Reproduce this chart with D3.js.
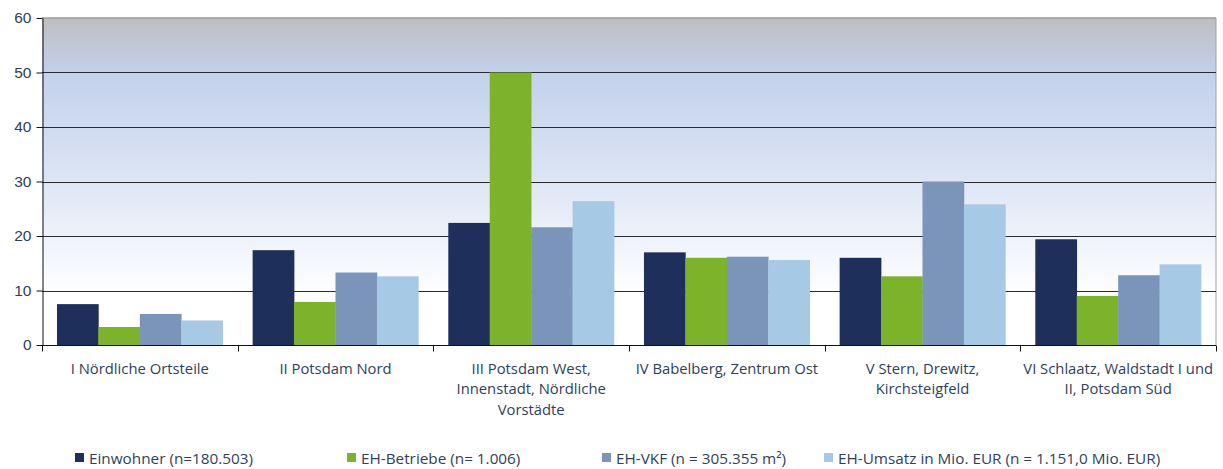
<!DOCTYPE html>
<html>
<head>
<meta charset="utf-8">
<script src="https://cdn.jsdelivr.net/npm/d3@7"></script>
<style>
  body { margin: 0; background: #fff; }
  svg { font-family: "Open Sans", "Noto Sans", sans-serif; }
</style>
</head>
<body>
<div id="chart"></div>
<script>
var categories = [
  ["I Nördliche Ortsteile"],
  ["II Potsdam Nord"],
  ["III Potsdam West,", "Innenstadt, Nördliche", "Vorstädte"],
  ["IV Babelberg, Zentrum Ost"],
  ["V Stern, Drewitz,", "Kirchsteigfeld"],
  ["VI Schlaatz, Waldstadt I und", "II, Potsdam Süd"]
];
var seriesNames = ["Einwohner (n=180.503)", "EH-Betriebe (n= 1.006)", "EH-VKF (n = 305.355 m²)", "EH-Umsatz in Mio. EUR (n = 1.151,0 Mio. EUR)"];
var einwohner = [7.5, 17.4, 22.4, 17.0, 16.0, 19.4];
var betriebe = [3.3, 7.9, 50.0, 16.0, 12.6, 9.0];
var vkf = [5.7, 13.3, 21.6, 16.2, 30.0, 12.8];
var umsatz = [4.5, 12.6, 26.4, 15.6, 25.8, 14.8];
var yTicks = [0, 10, 20, 30, 40, 50, 60];

var series = [einwohner, betriebe, vkf, umsatz];
var colors = ["#1f2f5b", "#7db22b", "#7b94b9", "#a6c9e6"];

var width = 1223, height = 469;
var margin = {left: 42, right: 7, top: 18, bottom: 124};

var svg = d3.select('#chart').append('svg')
  .attr('width', width).attr('height', height);

var defs = svg.append('defs');
var grad = defs.append('linearGradient').attr('id', 'bg')
  .attr('x1', 0).attr('y1', 0).attr('x2', 0).attr('y2', 1);
grad.append('stop').attr('offset', '0%').attr('stop-color', '#bebec1');
grad.append('stop').attr('offset', '17%').attr('stop-color', '#c3d1ec');
grad.append('stop').attr('offset', '45%').attr('stop-color', '#d9e2f3');
grad.append('stop').attr('offset', '85%').attr('stop-color', '#ffffff');
grad.append('stop').attr('offset', '100%').attr('stop-color', '#ffffff');

var x0 = d3.scaleBand()
  .domain(d3.range(categories.length))
  .range([margin.left, width - margin.right])
  .paddingInner(0.153).paddingOuter(0.0765);
var xs = d3.range(categories.length);
var xOuter = d3.scaleBand().domain(xs).range([margin.left, width - margin.right]);
var x1 = d3.scaleBand().domain(d3.range(series.length)).range([0, x0.bandwidth()]);
var y = d3.scaleLinear().domain([0, 60]).range([height - margin.bottom, margin.top]);

var plotW = width - margin.right - margin.left;
svg.append('rect')
  .attr('x', margin.left).attr('y', y(60))
  .attr('width', plotW).attr('height', y(0) - y(60))
  .attr('fill', 'url(#bg)');

// border top / right
svg.append('line').attr('x1', margin.left).attr('x2', width - margin.right)
  .attr('y1', y(60)).attr('y2', y(60)).attr('stroke', '#9a9a9a').attr('stroke-width', 1.5);
svg.append('line').attr('x1', width - margin.right).attr('x2', width - margin.right)
  .attr('y1', y(60)).attr('y2', y(0)).attr('stroke', '#a0a0a0').attr('stroke-width', 1);

// gridlines
svg.append('g').selectAll('line')
  .data(yTicks.filter(function (d) { return d > 0 && d < 60; }))
  .enter().append('line')
  .attr('x1', margin.left).attr('x2', width - margin.right)
  .attr('y1', function (d) { return Math.round(y(d)) + 0.5; })
  .attr('y2', function (d) { return Math.round(y(d)) + 0.5; })
  .attr('stroke', '#2a2a33').attr('stroke-width', 1);

// bars
var groups = svg.append('g').selectAll('g')
  .data(xs).enter().append('g')
  .attr('transform', function (i) { return 'translate(' + x0(i) + ',0)'; });
groups.selectAll('rect')
  .data(function (i) { return series.map(function (s, k) { return {k: k, v: s[i]}; }); })
  .enter().append('rect')
  .attr('x', function (d) { return x1(d.k); })
  .attr('width', x1.bandwidth() + 0.3)
  .attr('y', function (d) { return y(d.v); })
  .attr('height', function (d) { return y(0) - y(d.v); })
  .attr('fill', function (d) { return colors[d.k]; });

// y axis
var yAxis = svg.append('g')
  .attr('transform', 'translate(' + (margin.left + 0.5) + ',0)')
  .call(d3.axisLeft(y).tickValues(yTicks).tickSize(6).tickSizeOuter(0).tickPadding(5));
yAxis.select('.domain').attr('stroke', '#111');
yAxis.selectAll('.tick line').attr('stroke', '#111');
yAxis.selectAll('text').attr('font-size', 15.5).attr('fill', '#2f3f5c');

// x axis
var xAxis = svg.append('g')
  .attr('transform', 'translate(0,' + (Math.round(y(0)) + 0.5) + ')');
xAxis.append('line').attr('x1', margin.left).attr('x2', width - margin.right)
  .attr('stroke', '#111').attr('stroke-width', 1.2);
xAxis.selectAll('.xt')
  .data(d3.range(categories.length + 1)).enter().append('line')
  .attr('class', 'xt')
  .attr('x1', function (i) { return Math.round(i < categories.length ? xOuter(i) : width - margin.right) + 0.5; })
  .attr('x2', function (i) { return Math.round(i < categories.length ? xOuter(i) : width - margin.right) + 0.5; })
  .attr('y1', 0).attr('y2', 6).attr('stroke', '#111');

var labels = xAxis.selectAll('.xl')
  .data(xs).enter().append('text')
  .attr('class', 'xl')
  .attr('text-anchor', 'middle')
  .attr('font-size', 14.8)
  .attr('fill', '#2f3f5c')
  .attr('transform', function (i) { return 'translate(' + (xOuter(i) + xOuter.bandwidth() / 2) + ',28)'; });
labels.selectAll('tspan')
  .data(function (i) { return categories[i]; })
  .enter().append('tspan')
  .attr('x', 0)
  .attr('dy', function (d, j) { return j === 0 ? 0 : 20.5; })
  .text(function (d) { return d; });

// legend
var legendX = [75, 347, 602, 824];
var legend = svg.append('g').selectAll('g')
  .data(seriesNames).enter().append('g')
  .attr('transform', function (d, i) { return 'translate(' + legendX[i] + ',453)'; });
legend.append('rect').attr('width', 9).attr('height', 9)
  .attr('fill', function (d, i) { return colors[i]; });
legend.append('text').attr('x', 14).attr('y', 10.5)
  .attr('font-size', 15.3).attr('fill', '#2f3f5c')
  .text(function (d) { return d; });
</script>
</body>
</html>
